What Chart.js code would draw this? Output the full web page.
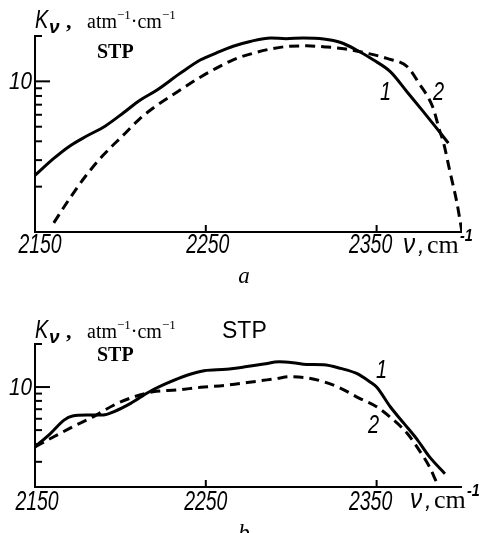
<!DOCTYPE html>
<html>
<head>
<meta charset="utf-8">
<script src="https://cdn.jsdelivr.net/npm/chart.js@4.4.1/dist/chart.umd.min.js"></script>
<style>
  html, body { margin: 0; padding: 0; background: #fff; overflow: hidden; width: 482px; height: 533px; }
  canvas { position: absolute; left: 0; }
  #chartA { top: 0; }
  #chartB { top: 290px; }
</style>
</head>
<body>
<canvas id="chartA" width="482" height="290"></canvas>
<canvas id="chartB" width="482" height="250"></canvas>
<script>
// panel a, curve 1 (solid) and curve 2 (dashed)
const nuA1 = [2150, 2161, 2170, 2180, 2191, 2202, 2211, 2221, 2235, 2247, 2256, 2266, 2276, 2288, 2297, 2307, 2319, 2329, 2338, 2348, 2358, 2368, 2377, 2385, 2392];
const kA1  = [2.38, 3.08, 3.70, 4.32, 5.04, 6.21, 7.44, 8.69, 11.3, 13.9, 15.4, 17.1, 18.4, 19.4, 19.2, 19.4, 19.1, 18.1, 16.2, 13.9, 11.6, 8.47, 6.37, 4.91, 3.89];
const nuA2 = [2161, 2170, 2180, 2190, 2202, 2211, 2221, 2233, 2247, 2256, 2266, 2278, 2288, 2299, 2309, 2321, 2332, 2344, 2356, 2368, 2375, 2383, 2387, 2389, 2393, 2397, 2400];
const kA2  = [1.15, 1.65, 2.38, 3.24, 4.43, 5.60, 6.89, 8.47, 10.7, 12.2, 13.9, 15.4, 16.4, 17.1, 17.2, 16.9, 16.4, 15.4, 14.2, 12.5, 9.64, 6.70, 4.67, 3.99, 2.50, 1.57, 1.0];

// panel b
const nuB1 = [2150, 2159, 2167, 2172, 2180, 2190, 2196, 2206, 2217, 2227, 2239, 2249, 2262, 2274, 2284, 2293, 2301, 2309, 2319, 2329, 2338, 2346, 2350, 2358, 2366, 2374, 2381, 2390];
const kB1  = [3.82, 4.73, 5.87, 6.27, 6.37, 6.37, 6.71, 7.69, 9.27, 10.6, 12.1, 13.0, 13.3, 13.9, 14.5, 15.0, 14.8, 14.4, 14.3, 13.5, 12.5, 10.9, 10.0, 7.28, 5.57, 4.26, 3.25, 2.48];
const nuB2 = [2150, 2161, 2172, 2184, 2196, 2208, 2219, 2233, 2247, 2262, 2278, 2292, 2299, 2309, 2319, 2329, 2340, 2350, 2360, 2368, 2375, 2381, 2385];
const kB2  = [3.82, 4.49, 5.27, 6.19, 7.46, 8.55, 9.27, 9.53, 9.95, 10.3, 10.9, 11.5, 11.8, 11.6, 10.9, 9.8, 8.34, 7.28, 5.87, 4.73, 3.61, 2.76, 2.17];

// axis ticks
const xTicks = [2150, 2250, 2350];
const yTicks = [2, 3, 4, 5, 6, 7, 8, 9, 10];
const yLabelled = 10;

const SANS = "'Liberation Sans', Arial, sans-serif";
const SERIF = "'Liberation Serif', 'Times New Roman', serif";

function txt(ctx, s, x, y, font, align, sx) {
  ctx.save();
  ctx.font = font;
  ctx.textAlign = align || 'left';
  ctx.textBaseline = 'alphabetic';
  ctx.translate(x, y);
  ctx.scale(sx || 1, 1);
  ctx.fillText(s, 0, 0);
  const w = ctx.measureText(s).width * (sx || 1);
  ctx.restore();
  return w;
}

// K_nu, atm^-1 cm^-1
function unitLabel(ctx, x, y) {
  txt(ctx, 'K', x, y, 'italic 25px ' + SANS, 'left', 0.8);
  txt(ctx, 'ν', x + 14, y + 5, 'bold italic 19px ' + SANS, 'left', 1);
  txt(ctx, ',', x + 31, y, 'bold 22px ' + SERIF);
  let cx = x + 52;
  cx += txt(ctx, 'atm', cx, y, '20px ' + SERIF);
  cx += txt(ctx, '−1', cx, y - 9, '13px ' + SERIF);
  cx += txt(ctx, '·cm', cx, y, '20px ' + SERIF);
  txt(ctx, '−1', cx, y - 9, '13px ' + SERIF);
}

function nuLabel(ctx, x, y) {
  txt(ctx, 'ν', x, y, 'italic 27px ' + SANS, 'left', 0.9);
  txt(ctx, ',', x + 15, y, 'italic 24px ' + SANS);
  txt(ctx, 'cm', x + 24, y, '26px ' + SERIF);
  txt(ctx, '-1', x + 57, y - 12, 'bold italic 17px ' + SANS, 'left', 0.85);
}

function axesPlugin(opts) {
  return {
    id: 'axes',
    afterDraw(chart) {
      const ctx = chart.ctx, a = chart.chartArea;
      const xs = chart.scales.x, ys = chart.scales.y;
      ctx.save();
      ctx.strokeStyle = '#000';
      ctx.fillStyle = '#000';
      ctx.lineWidth = 2;
      ctx.beginPath();
      ctx.moveTo(a.left + 7, a.top);
      ctx.lineTo(a.left, a.top);
      ctx.lineTo(a.left, a.bottom);
      ctx.lineTo(a.right, a.bottom);
      ctx.stroke();

      yTicks.forEach(v => {
        if (v <= ys.min || v > ys.max) return;
        const py = ys.getPixelForValue(v);
        ctx.beginPath();
        ctx.moveTo(a.left, py);
        ctx.lineTo(a.left + (v === yLabelled ? 15 : 7), py);
        ctx.stroke();
        if (v === yLabelled) {
          txt(ctx, String(v), a.left - 3, py + 8, 'italic 23px ' + SANS, 'right', 0.9);
        }
      });

      xTicks.forEach(v => {
        const px = xs.getPixelForValue(v);
        if (v !== xs.min) {
          ctx.beginPath();
          ctx.moveTo(px, a.bottom);
          ctx.lineTo(px, a.bottom - 7);
          ctx.stroke();
        }
        txt(ctx, String(v), px + opts.tickShift[xTicks.indexOf(v)], a.bottom + opts.tickDy, 'italic 27px ' + SANS, 'center', 0.72);
      });

      opts.extra(ctx, a);
      ctx.restore();
    }
  };
}

function makePanel(id, n1, k1, n2, k2, yMin, yMax, padding, opts) {
  const pts = (n, k) => n.map((x, i) => ({ x: x, y: k[i] }));
  return new Chart(document.getElementById(id), {
    type: 'line',
    data: {
      datasets: [
        { data: pts(n1, k1), borderColor: '#000', borderWidth: 3, pointRadius: 0, cubicInterpolationMode: 'monotone', fill: false },
        { data: pts(n2, k2), borderColor: '#000', borderWidth: 3, borderDash: [10, 6], pointRadius: 0, cubicInterpolationMode: 'monotone', fill: false }
      ]
    },
    options: {
      responsive: false,
      animation: false,
      layout: { padding: padding },
      plugins: { legend: { display: false }, tooltip: { enabled: false } },
      scales: {
        x: { type: 'linear', min: 2150, max: 2400, display: false },
        y: { type: 'logarithmic', min: yMin, max: yMax, display: false }
      }
    },
    plugins: [axesPlugin(opts)]
  });
}

makePanel('chartA', nuA1, kA1, nuA2, kA2, 1, 20,
  { left: 35, right: 20, top: 36, bottom: 58 },
  {
    tickDy: 21,
    tickShift: [5, 2, -6],
    extra(ctx, a) {
      unitLabel(ctx, 35, 28);
      txt(ctx, 'STP', 97, 58, 'bold 20px ' + SERIF);
      txt(ctx, '1', 380, 100, 'italic 25px ' + SANS, 'left', 0.8);
      txt(ctx, '2', 433, 100, 'italic 25px ' + SANS, 'left', 0.8);
      nuLabel(ctx, 403, 253);
      txt(ctx, 'a', 244, 283, 'italic 23px ' + SERIF, 'center');
    }
  });

makePanel('chartB', nuB1, kB1, nuB2, kB2, 2, 20,
  { left: 35, right: 20, top: 54, bottom: 53 },
  {
    tickDy: 23,
    tickShift: [2, 0, -6],
    extra(ctx, a) {
      unitLabel(ctx, 35, 48);
      txt(ctx, 'STP', 222, 48, '23px ' + SANS, 'left', 1);
      txt(ctx, 'STP', 97, 71, 'bold 20px ' + SERIF);
      txt(ctx, '1', 376, 88, 'italic 25px ' + SANS, 'left', 0.8);
      txt(ctx, '2', 368, 143, 'italic 25px ' + SANS, 'left', 0.8);
      nuLabel(ctx, 410, 218);
      txt(ctx, 'b', 244, 250, 'italic 23px ' + SERIF, 'center');
    }
  });
</script>
</body>
</html>
